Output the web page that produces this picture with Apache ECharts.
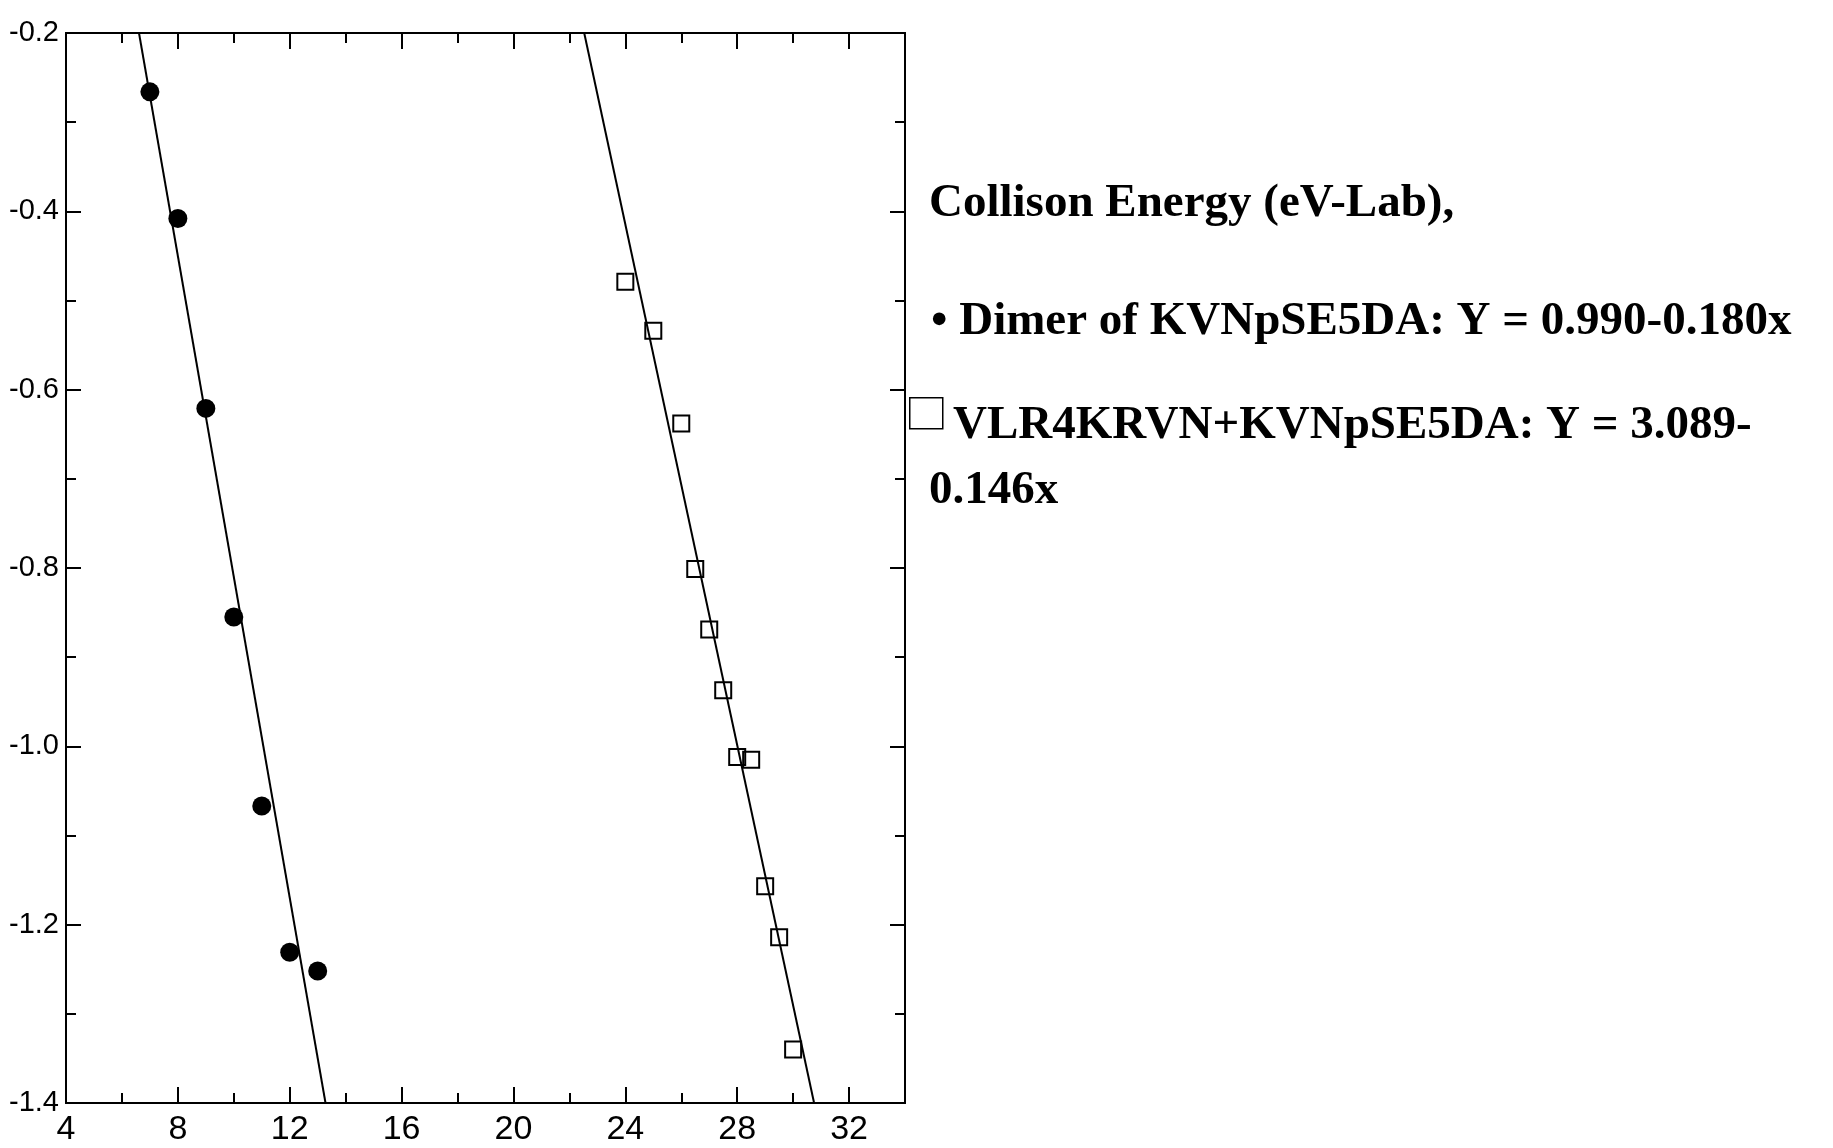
<!DOCTYPE html>
<html>
<head>
<meta charset="utf-8">
<script src="https://cdn.jsdelivr.net/npm/echarts@6/dist/echarts.min.js"></script>
<style>
html,body{margin:0;padding:0;background:#fff;}
#chart{width:1833px;height:1148px;}
</style>
</head>
<body>
<div id="chart"></div>
<script>
// Dimer of KVNpSE5DA (filled circles)
const dimerX = [7, 8, 9, 10, 11, 12, 13];
const dimerY = [-0.266, -0.408, -0.621, -0.855, -1.067, -1.231, -1.252];
// VLR4KRVN+KVNpSE5DA (open squares)
const mixX = [24, 25, 26, 26.5, 27, 27.5, 28, 28.5, 29, 29.5, 30];
const mixY = [-0.479, -0.534, -0.638, -0.801, -0.869, -0.937, -1.012, -1.015, -1.157, -1.214, -1.340];
// fitted lines (end points)
const dimerFitX = [6.61, 13.28];
const dimerFitY = [-0.2, -1.4];
const mixFitX = [22.53, 30.75];
const mixFitY = [-0.2, -1.4];
// axes
const xMin = 4, xMax = 34, xMajor = 4, xMinor = 2;
const yMin = -1.4, yMax = -0.2, yMajor = 0.2;
// text
const textLines = [
  'Collison Energy (eV-Lab),',
  '\u2022 Dimer of KVNpSE5DA: Y = 0.990-0.180x',
  'VLR4KRVN+KVNpSE5DA: Y = 3.089-',
  '0.146x'
];

const zip = (xs, ys) => xs.map((x, i) => [x, ys[i]]);

const chart = echarts.init(document.getElementById('chart'), null, {renderer: 'canvas'});

const lineStyleAxis = {color: '#000', width: 2};
function xAxisDef(pos, interval, tickLen, labels) {
  return {
    type: 'value', position: pos, min: xMin, max: xMax, interval: interval,
    axisLine: {show: true, onZero: false, lineStyle: lineStyleAxis},
    axisTick: {show: true, inside: true, length: tickLen, lineStyle: {color: '#000', width: 2}},
    axisLabel: labels ? {
      show: true, color: '#000', fontSize: 34,
      fontFamily: '"Liberation Sans", Arial, sans-serif',
      margin: 10, showMaxLabel: false,
      formatter: v => (v % xMajor === 0 ? String(v) : '')
    } : {show: false},
    splitLine: {show: false}
  };
}
function yAxisDef(pos, labels) {
  return {
    type: 'value', position: pos, min: yMin, max: yMax, interval: yMajor,
    axisLine: {show: true, onZero: false, lineStyle: lineStyleAxis},
    axisTick: {show: true, inside: true, length: 15, lineStyle: {color: '#000', width: 2}},
    minorTick: {show: true, splitNumber: 2, length: 10, lineStyle: {color: '#000', width: 2}},
    axisLabel: labels ? {
      show: true, color: '#000', fontSize: 29, fontFamily: '"Liberation Sans", Arial, sans-serif',
      margin: 7, formatter: v => v.toFixed(1)
    } : {show: false},
    splitLine: {show: false}
  };
}

const textFont = 'bold 47px "Liberation Serif", "Times New Roman", serif';
const dy = 32;

chart.setOption({
  animation: false,
  backgroundColor: '#fff',
  grid: {left: 66, top: 33, width: 839, height: 1070, containLabel: false},
  xAxis: [
    xAxisDef('bottom', xMajor, 16, true),
    xAxisDef('bottom', xMinor, 10, false),
    xAxisDef('top', xMajor, 16, false),
    xAxisDef('top', xMinor, 10, false)
  ],
  yAxis: [
    yAxisDef('left', true),
    yAxisDef('right', false)
  ],
  series: [
    {
      type: 'line', data: zip(dimerFitX, dimerFitY), showSymbol: false, symbol: 'none',
      lineStyle: {color: '#000', width: 2}, xAxisIndex: 0, yAxisIndex: 0, z: 2
    },
    {
      type: 'line', data: zip(mixFitX, mixFitY), showSymbol: false, symbol: 'none',
      lineStyle: {color: '#000', width: 2}, xAxisIndex: 0, yAxisIndex: 0, z: 2
    },
    {
      type: 'scatter', data: zip(dimerX, dimerY), symbol: 'circle', symbolSize: 19,
      itemStyle: {color: '#000', opacity: 1}, xAxisIndex: 0, yAxisIndex: 0, z: 3
    },
    {
      type: 'scatter', data: zip(mixX, mixY), symbol: 'rect', symbolSize: 16,
      itemStyle: {color: 'rgba(255,255,255,0)', borderColor: '#000', borderWidth: 2, opacity: 1},
      xAxisIndex: 0, yAxisIndex: 0, z: 3
    }
  ],
  graphic: [
    {type: 'text', left: 929, top: 212 - dy, style: {text: textLines[0], font: textFont, fill: '#000'}},
    {type: 'text', left: 931, top: 330 - dy, style: {text: textLines[1], font: textFont, fill: '#000'}},
    {type: 'rect', left: 909, top: 397, shape: {width: 33, height: 31},
     style: {fill: '#fff', stroke: '#000', lineWidth: 1.5}},
    {type: 'text', left: 953, top: 434 - dy, style: {text: textLines[2], font: textFont, fill: '#000'}},
    {type: 'text', left: 929, top: 499 - dy, style: {text: textLines[3], font: textFont, fill: '#000'}}
  ]
});
</script>
</body>
</html>
